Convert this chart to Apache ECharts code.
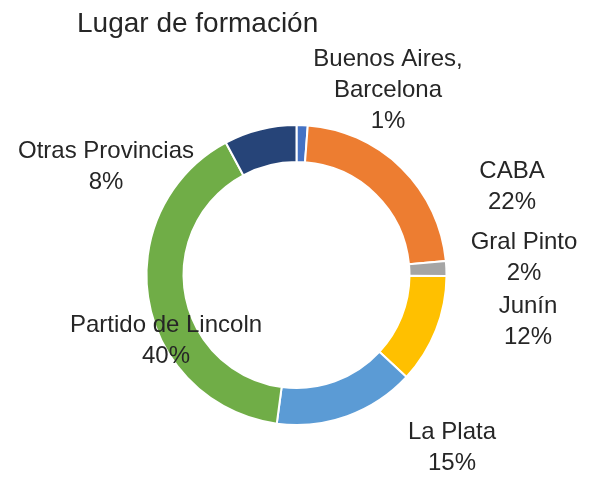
<!DOCTYPE html>
<html>
<head>
  <meta charset="utf-8">
  <title>Lugar de formación</title>
  <script src="https://cdn.jsdelivr.net/npm/echarts@6/dist/echarts.min.js"></script>
  <style>
    html, body { margin: 0; padding: 0; background: #ffffff; }
    #chart { width: 589px; height: 483px; }
  </style>
</head>
<body>
<div id="chart"></div>
<script>
  // datos
  var categories = ['Buenos Aires, Barcelona', 'CABA', 'Gral Pinto', 'Junín', 'La Plata', 'Partido de Lincoln', 'Otras Provincias'];
  var values = [1.2, 22.3, 1.6, 11.8, 15.2, 40.1, 7.8];
  var colors = ['#4472C4', '#ED7D31', '#A5A5A5', '#FFC000', '#5B9BD5', '#70AD47', '#264478'];

  // posicion de las etiquetas (centro del bloque de texto)
  var labelPos = [[388, 90], [512, 187], [524, 258], [528, 322], [452, 448], [166, 341], [106, 167]];

  var chart = echarts.init(document.getElementById('chart'));

  var option = {
    animation: false,
    title: {
      text: 'Lugar de formación',
      left: 77,
      top: 10,
      padding: 0,
      textStyle: {
        fontFamily: 'Liberation Sans, Arial, sans-serif',
        fontSize: 28,
        fontWeight: 'normal',
        color: '#262626'
      }
    },
    series: [
      {
        type: 'pie',
        center: [296.5, 275],
        radius: [113, 150],
        startAngle: 90,
        clockwise: true,
        itemStyle: {
          borderColor: '#ffffff',
          borderWidth: 2
        },
        label: {
          show: true,
          position: 'outside',
          overflow: 'none',
          fontFamily: 'Liberation Sans, Arial, sans-serif',
          fontSize: 24,
          lineHeight: 31,
          color: '#262626',
          align: 'center',
          formatter: function (p) {
            return p.name.replace(', ', ',\n') + '\n' + Math.round(p.percent) + '%';
          }
        },
        labelLine: { show: false },
        labelLayout: function (p) {
          var pos = labelPos[p.dataIndex];
          return { x: pos[0], y: pos[1], align: 'center', verticalAlign: 'middle' };
        },
        data: categories.map(function (name, i) {
          return { name: name, value: values[i], itemStyle: { color: colors[i] } };
        })
      }
    ]
  };

  chart.setOption(option);
</script>
</body>
</html>
